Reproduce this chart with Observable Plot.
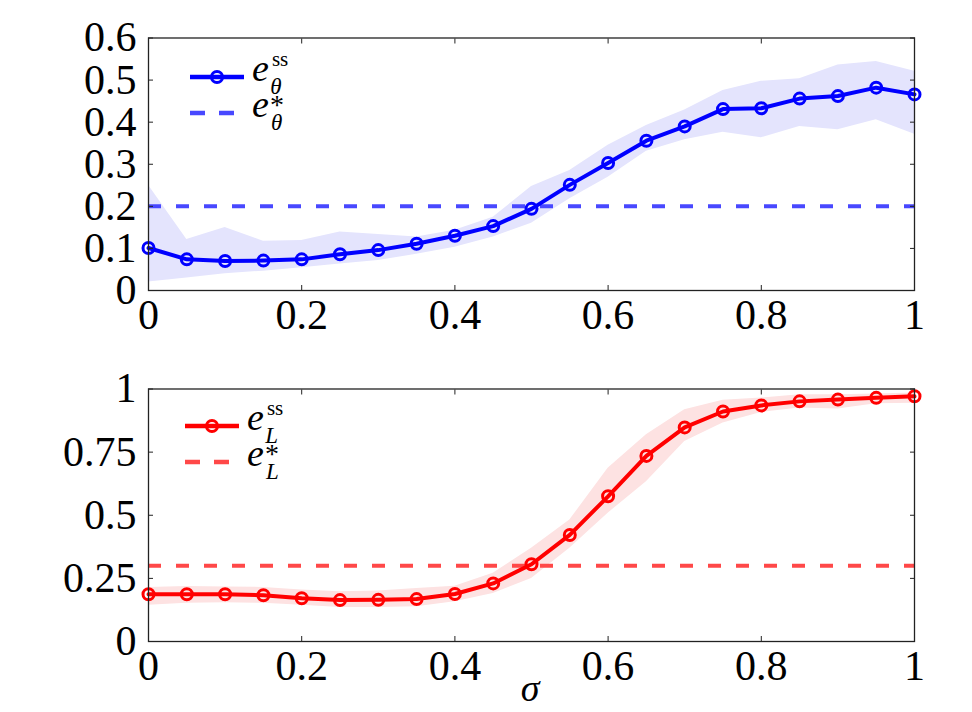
<!DOCTYPE html>
<html>
<head>
<meta charset="utf-8">
<script src="https://cdn.jsdelivr.net/npm/d3@7"></script>
<script src="https://cdn.jsdelivr.net/npm/@observablehq/plot@0.6"></script>
<style>
  html, body { margin: 0; padding: 0; background: #fff; }
  #wrap { position: relative; width: 972px; height: 712px; }
  #top, #bot { position: absolute; left: 0; }
  #top { top: 0; }
  #bot { top: 340px; }
</style>
</head>
<body>
<div id="wrap"><div id="top"></div><div id="bot"></div></div>
<script>
const sigma = [0, 0.05, 0.1, 0.15, 0.2, 0.25, 0.3, 0.35, 0.4, 0.45, 0.5, 0.55, 0.6, 0.65, 0.7, 0.75, 0.8, 0.85, 0.9, 0.95, 1];

const thetaSS = [0.101, 0.074, 0.070, 0.071, 0.074, 0.086, 0.096, 0.111, 0.130, 0.153, 0.194, 0.251, 0.303, 0.356, 0.390, 0.431, 0.433, 0.456, 0.462, 0.482, 0.466];
const thetaHi = [0.250, 0.121, 0.150, 0.117, 0.119, 0.139, 0.133, 0.127, 0.143, 0.174, 0.247, 0.285, 0.345, 0.392, 0.429, 0.475, 0.497, 0.503, 0.536, 0.544, 0.521];
const thetaLo = [0.020, 0.030, 0.040, 0.046, 0.054, 0.063, 0.071, 0.086, 0.103, 0.127, 0.160, 0.218, 0.269, 0.331, 0.358, 0.376, 0.363, 0.390, 0.382, 0.406, 0.371];
const thetaStar = 0.2;

const lSS = [0.187, 0.187, 0.187, 0.183, 0.171, 0.164, 0.165, 0.168, 0.188, 0.230, 0.306, 0.422, 0.575, 0.735, 0.848, 0.911, 0.935, 0.951, 0.958, 0.965, 0.971];
const lHi = [0.214, 0.218, 0.216, 0.214, 0.204, 0.197, 0.200, 0.210, 0.219, 0.270, 0.369, 0.481, 0.686, 0.819, 0.918, 0.955, 0.964, 0.977, 0.977, 0.980, 0.984];
const lLo = [0.144, 0.151, 0.153, 0.151, 0.144, 0.135, 0.135, 0.138, 0.157, 0.190, 0.250, 0.369, 0.508, 0.633, 0.792, 0.865, 0.907, 0.925, 0.921, 0.942, 0.944];
const lStar = 0.3;

const xTicks = [0, 0.2, 0.4, 0.6, 0.8, 1];
const xTickLabels = ["0", "0.2", "0.4", "0.6", "0.8", "1"];
const yTicksTop = [0, 0.1, 0.2, 0.3, 0.4, 0.5, 0.6];
const yTickLabelsTop = ["0", "0.1", "0.2", "0.3", "0.4", "0.5", "0.6"];
const yTicksBot = [0, 0.25, 0.5, 0.75, 1];
const yTickLabelsBot = ["0", "0.25", "0.5", "0.75", "1"];

const FONT = "'Liberation Serif', 'DejaVu Serif', serif";
const AX = "#222";

function panel({ss, lo, hi, star, line, dash, band, yDomain, yTicks, yLabels, height, mTop, mBottom}) {
  const data = sigma.map((s, i) => ({s, v: ss[i], lo: lo[i], hi: hi[i]}));
  const xfmt = d => xTickLabels[xTicks.indexOf(d)];
  const yfmt = d => yLabels[yTicks.indexOf(d)];
  return Plot.plot({
    width: 972,
    height,
    marginLeft: 148,
    marginRight: 58,
    marginTop: mTop,
    marginBottom: mBottom,
    style: {fontFamily: FONT, fontSize: "42px", color: "#000", background: "#fff", overflow: "visible"},
    x: {domain: [0, 1]},
    y: {domain: yDomain},
    marks: [
      Plot.areaY(data, {x: "s", y1: "lo", y2: "hi", fill: band, curve: "linear"}),
      Plot.ruleY([star], {stroke: dash, strokeWidth: 4, strokeDasharray: "13,15"}),
      Plot.line(data, {x: "s", y: "v", stroke: line, strokeWidth: 4}),
      Plot.dot(data, {x: "s", y: "v", r: 5.5, stroke: line, strokeWidth: 3, fill: "none"}),
      Plot.frame({stroke: AX, strokeWidth: 1.3}),
      Plot.axisX(xTicks, {anchor: "bottom", tickSize: 0, tickPadding: 9, tickFormat: xfmt, label: null, fontSize: 42, fill: "#000"}),
      Plot.axisY(yTicks, {anchor: "left", tickSize: 0, tickPadding: 12, tickFormat: yfmt, label: null, fontSize: 42, fill: "#000"}),
      Plot.axisX(xTicks, {anchor: "bottom", tickSize: -5, tickFormat: () => "", label: null, stroke: AX}),
      Plot.axisX(xTicks, {anchor: "top", tickSize: -5, tickFormat: () => "", label: null, stroke: AX}),
      Plot.axisY(yTicks, {anchor: "left", tickSize: -5, tickFormat: () => "", label: null, stroke: AX}),
      Plot.axisY(yTicks, {anchor: "right", tickSize: -5, tickFormat: () => "", label: null, stroke: AX})
    ]
  });
}

const topPlot = panel({
  ss: thetaSS, lo: thetaLo, hi: thetaHi, star: thetaStar,
  line: "#0000ff", dash: "#4848ff", band: "#e4e4fd",
  yDomain: [0, 0.6], yTicks: yTicksTop, yLabels: yTickLabelsTop,
  height: 340, mTop: 37.5, mBottom: 50
});
const botPlot = panel({
  ss: lSS, lo: lLo, hi: lHi, star: lStar,
  line: "#ff0000", dash: "#ff4848", band: "#fde2e2",
  yDomain: [0, 1], yTicks: yTicksBot, yLabels: yTickLabelsBot,
  height: 372, mTop: 48.5, mBottom: 71
});
document.getElementById("top").appendChild(topPlot);
document.getElementById("bot").appendChild(botPlot);

function legend(svg, {x0, y0, color, dashColor, sub}) {
  const g = d3.select(svg).append("g").attr("font-family", FONT).attr("text-anchor", "start");
  g.append("line").attr("x1", x0).attr("x2", x0 + 54).attr("y1", y0).attr("y2", y0)
    .attr("stroke", color).attr("stroke-width", 4.5);
  g.append("circle").attr("cx", x0 + 27).attr("cy", y0).attr("r", 5.5)
    .attr("fill", "none").attr("stroke", color).attr("stroke-width", 3);
  g.append("line").attr("x1", x0).attr("x2", x0 + 45).attr("y1", y0 + 36).attr("y2", y0 + 36)
    .attr("stroke", dashColor).attr("stroke-width", 4.5).attr("stroke-dasharray", "15,14");
  const tx = x0 + 62;
  // e^{ss}_{sub}
  const t1 = g.append("text").attr("x", tx).attr("y", y0 + 4).attr("font-size", 38);
  t1.append("tspan").attr("font-style", "italic").text("e");
  t1.append("tspan").attr("dx", 3).attr("dy", -15).attr("font-size", 21).text("ss");
  t1.append("tspan").attr("dx", -18).attr("dy", 28).attr("font-size", 23).attr("font-style", "italic").text(sub);
  // e^{*}_{sub}
  const t2 = g.append("text").attr("x", tx).attr("y", y0 + 40).attr("font-size", 38);
  t2.append("tspan").attr("font-style", "italic").text("e");
  t2.append("tspan").attr("dx", 1).attr("dy", -3).attr("font-size", 28).text("*");
  t2.append("tspan").attr("dx", -13).attr("dy", 16).attr("font-size", 23).attr("font-style", "italic").text(sub);
}

const topSvg = topPlot.tagName.toLowerCase() === "svg" ? topPlot : topPlot.querySelector("svg");
const botSvg = botPlot.tagName.toLowerCase() === "svg" ? botPlot : botPlot.querySelector("svg");
legend(topSvg, {x0: 190, y0: 77, color: "#0000ff", dashColor: "#4848ff", sub: "θ"});
legend(botSvg, {x0: 185, y0: 426 - 340, color: "#ff0000", dashColor: "#ff4848", sub: "L"});

d3.select(botSvg).append("text")
  .attr("x", 530).attr("y", 701 - 340)
  .attr("text-anchor", "middle")
  .attr("font-family", FONT).attr("font-style", "italic").attr("font-size", 38)
  .text("σ");
</script>
</body>
</html>
